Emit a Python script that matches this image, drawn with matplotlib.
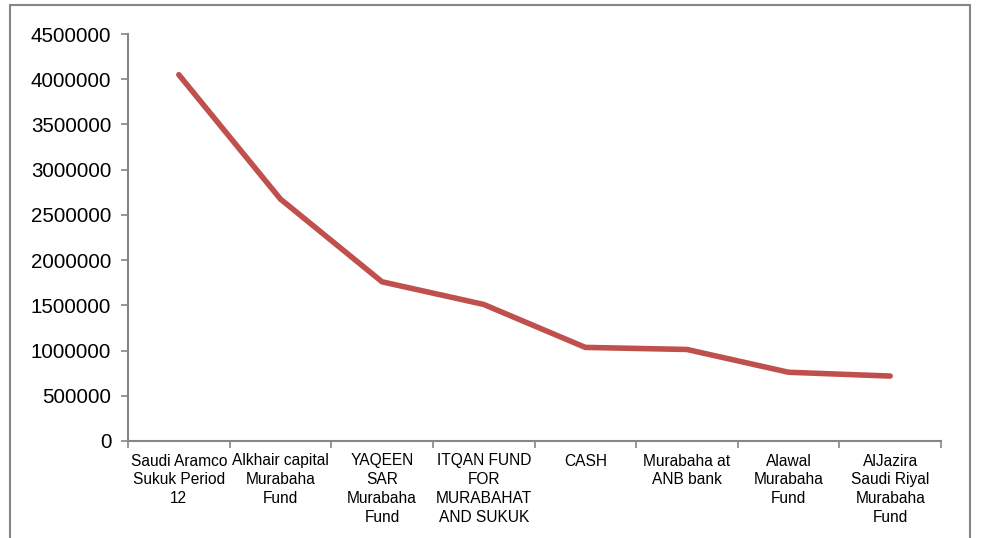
import matplotlib
matplotlib.use("Agg")
import matplotlib.pyplot as plt
from matplotlib.patches import Rectangle
import numpy as np

categories = [
    "Saudi Aramco\nSukuk Period\n12",
    "Alkhair capital\nMurabaha\nFund",
    "YAQEEN\nSAR\nMurabaha\nFund",
    "ITQAN FUND\nFOR\nMURABAHAT\nAND SUKUK",
    "CASH",
    "Murabaha at\nANB bank",
    "Alawal\nMurabaha\nFund",
    "AlJazira\nSaudi Riyal\nMurabaha\nFund",
]
values = [4050000, 2675000, 1760000, 1510000, 1035000, 1012000, 760000, 718000]
yticks = [0, 500000, 1000000, 1500000, 2000000, 2500000, 3000000, 3500000, 4000000, 4500000]

plt.rcParams['font.family'] = ['Liberation Sans', 'DejaVu Sans']

fig = plt.figure(figsize=(9.88, 5.38), dpi=100)
ax = fig.add_axes([128/988, 1-441/538, (941-128)/988, (441-34)/538])

x = np.arange(len(categories))
ax.plot(x, values, color='#C0504D', linewidth=4.0, solid_capstyle='round', solid_joinstyle='round')

ax.set_xlim(-0.5, len(categories) - 0.5)
ax.set_ylim(0, 4500000)
ax.set_yticks(yticks)
ax.set_yticklabels([str(v) for v in yticks], fontsize=14.8, color='black')
ax.set_xticks(x)
ax.set_xticklabels(categories, fontsize=11.2, linespacing=1.32)
ax.set_xticks(np.arange(len(categories) + 1) - 0.5, minor=True)
ax.tick_params(axis='x', which='major', length=0, pad=9)
ax.tick_params(axis='x', which='minor', length=5, color='#868686', width=1.2)
ax.tick_params(axis='y', length=5, color='#868686', width=1.2, pad=7)

for s in ['top', 'right']:
    ax.spines[s].set_visible(False)
for s in ['left', 'bottom']:
    ax.spines[s].set_color('#868686')
    ax.spines[s].set_linewidth(1.5)

rect = Rectangle((10/988, -0.05), 960/988, 1.05 - 5/538, transform=fig.transFigure,
                 fill=False, edgecolor='#868686', linewidth=1.5, clip_on=False)
fig.patches.append(rect)

fig.savefig("out.png", dpi=100)
